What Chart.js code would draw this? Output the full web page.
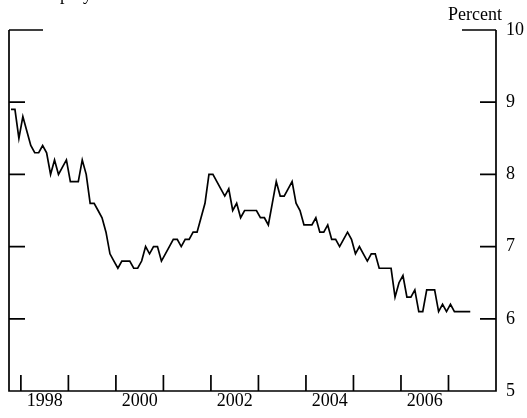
<!DOCTYPE html>
<html lang="en">
<head>
<meta charset="UTF-8">
<title>Unemployment rate</title>
<script src="https://cdn.jsdelivr.net/npm/chart.js"></script>
<style>
    body { margin: 0; background: #fff; }
    #wrap { width: 527px; height: 418px; }
</style>
</head>
<body>
<div id="wrap"><canvas id="myChart" width="527" height="418"></canvas></div>
<script>
    // monthly series, first observation October 1997
    const firstYear = 1997;
    const firstMonth = 10;
    const rate = [
        8.9, 8.9, 8.5, 8.8, 8.6, 8.4, 8.3, 8.3, 8.4, 8.3,
        8.0, 8.2, 8.0, 8.1, 8.2, 7.9, 7.9, 7.9, 8.2, 8.0,
        7.6, 7.6, 7.5, 7.4, 7.2, 6.9, 6.8, 6.7, 6.8, 6.8,
        6.8, 6.7, 6.7, 6.8, 7.0, 6.9, 7.0, 7.0, 6.8, 6.9,
        7.0, 7.1, 7.1, 7.0, 7.1, 7.1, 7.2, 7.2, 7.4, 7.6,
        8.0, 8.0, 7.9, 7.8, 7.7, 7.8, 7.5, 7.6, 7.4, 7.5,
        7.5, 7.5, 7.5, 7.4, 7.4, 7.3, 7.6, 7.9, 7.7, 7.7,
        7.8, 7.9, 7.6, 7.5, 7.3, 7.3, 7.3, 7.4, 7.2, 7.2,
        7.3, 7.1, 7.1, 7.0, 7.1, 7.2, 7.1, 6.9, 7.0, 6.9,
        6.8, 6.9, 6.9, 6.7, 6.7, 6.7, 6.7, 6.3, 6.5, 6.6,
        6.3, 6.3, 6.4, 6.1, 6.1, 6.4, 6.4, 6.4, 6.1, 6.2,
        6.1, 6.2, 6.1, 6.1, 6.1, 6.1, 6.1
    ];

    const yearTicks = [1998, 1999, 2000, 2001, 2002, 2003, 2004, 2005, 2006, 2007];
    const yearLabels = ['1998', '2000', '2002', '2004', '2006'];
    const percentTicks = [5, 6, 7, 8, 9, 10];

    // points sit in the middle of their month
    const points = rate.map((v, i) => ({
        x: firstYear + (firstMonth - 1 + i + 0.5) / 12,
        y: v
    }));

    const FONT = '18px "Liberation Serif", "Times New Roman", serif';

    // hand-drawn frame: inward ticks, right-hand labels, years under the axis
    const frame = {
        id: 'frame',
        afterDraw(chart) {
            const c = chart.ctx;
            const { left, right, top, bottom } = chart.chartArea;
            const xs = chart.scales.x, ys = chart.scales.y;
            c.save();
            c.strokeStyle = '#000';
            c.lineWidth = 1.7;
            c.beginPath();
            c.moveTo(left, top);
            c.lineTo(left, bottom);
            c.lineTo(right, bottom);
            c.lineTo(right, top);
            percentTicks.forEach(v => {
                const y = ys.getPixelForValue(v);
                const len = v === 10 ? 34 : 16;
                c.moveTo(left, y); c.lineTo(left + len, y);
                c.moveTo(right, y); c.lineTo(right - len, y);
            });
            yearTicks.forEach(yr => {
                const x = xs.getPixelForValue(yr);
                c.moveTo(x, bottom); c.lineTo(x, bottom - 16);
            });
            c.stroke();

            c.fillStyle = '#000';
            c.font = FONT;
            c.textBaseline = 'middle';
            c.textAlign = 'left';
            percentTicks.forEach(v => {
                c.fillText(String(v), right + 10, ys.getPixelForValue(v));
            });
            c.textBaseline = 'alphabetic';
            c.textAlign = 'center';
            yearLabels.forEach(t => {
                c.fillText(t, xs.getPixelForValue(Number(t) + 0.5), bottom + 15);
            });
            c.textAlign = 'right';
            c.fillText('Percent', right + 6, top - 10);
            c.textAlign = 'left';
            c.fillText('Unemployment rate', 16, 0);
            c.restore();
        }
    };

    const ctx = document.getElementById('myChart').getContext('2d');
    new Chart(ctx, {
        type: 'line',
        data: {
            datasets: [{
                data: points,
                borderColor: '#000',
                borderWidth: 1.7,
                pointRadius: 0,
                tension: 0,
                fill: false
            }]
        },
        options: {
            responsive: false,
            animation: false,
            layout: { padding: { left: 9, right: 31, top: 30, bottom: 27 } },
            plugins: { legend: { display: false }, tooltip: { enabled: false } },
            scales: {
                x: { type: 'linear', min: 1997.75, max: 2008, display: false },
                y: { min: 5, max: 10, display: false }
            }
        },
        plugins: [frame]
    });
</script>
</body>
</html>
